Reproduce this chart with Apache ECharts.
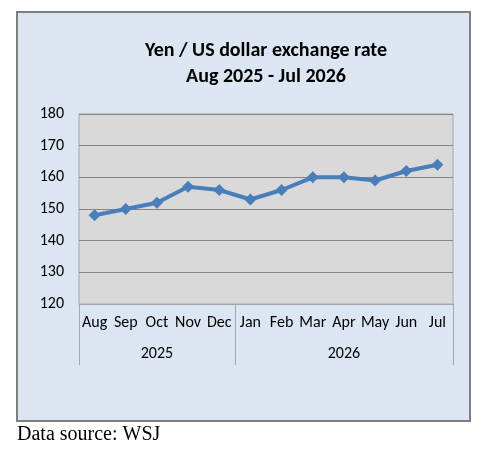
<!DOCTYPE html>
<html lang="en">
<head>
    <meta charset="UTF-8">
    <title>Yen / US dollar exchange rate</title>
    <style>
        html, body { margin: 0; padding: 0; background: #ffffff; }
        #main { width: 486px; height: 449px; }
    </style>
    <script src="https://cdn.jsdelivr.net/npm/echarts@6/dist/echarts.min.js"></script>
</head>
<body>
    <div id="main"></div>
    <script>
        // data
        var months = ['Aug', 'Sep', 'Oct', 'Nov', 'Dec', 'Jan', 'Feb', 'Mar', 'Apr', 'May', 'Jun', 'Jul'];
        var years = ['2025', '2025', '2025', '2025', '2025', '2026', '2026', '2026', '2026', '2026', '2026', '2026'];
        var rates = [148, 150, 152, 157, 156, 153, 156, 160, 160, 159, 162, 164];
        var yearLabelAt = [2, 8];   // middle month of each year group
        var yearStartAt = [0, 5];   // group boundaries (last one is added by echarts)

        var font = 'Carlito, Lato, sans-serif';
        var myChart = echarts.init(document.getElementById('main'));

        var option = {
            animation: false,
            graphic: [
                {
                    type: 'rect',
                    shape: { x: 17, y: 12, width: 453, height: 409 },
                    style: { fill: '#DCE6F2', stroke: '#7F7F7F', lineWidth: 2 },
                    z: -10
                },
                {
                    type: 'text',
                    left: 17,
                    top: 425,
                    style: {
                        text: 'Data source: WSJ',
                        font: '20px "Liberation Serif", "Times New Roman", serif',
                        fill: '#000'
                    }
                }
            ],
            title: {
                text: 'Yen / US dollar exchange rate\nAug 2025 - Jul 2026',
                left: 261,
                top: 33,
                textAlign: 'center',
                textStyle: {
                    fontFamily: font,
                    fontWeight: 'bold',
                    fontSize: 20,
                    lineHeight: 26,
                    color: '#000'
                }
            },
            grid: {
                left: 79,
                right: 33,
                top: 114,
                bottom: 145,
                show: true,
                backgroundColor: '#D9D9D9',
                borderColor: '#A6A6A6',
                borderWidth: 1
            },
            xAxis: [
                {
                    type: 'category',
                    data: months,
                    boundaryGap: true,
                    axisLine: { lineStyle: { color: '#A6A6A6', width: 1 } },
                    axisTick: {
                        show: true,
                        length: 61,
                        lineStyle: { color: '#A6A6A6' },
                        interval: function (index) {
                            return yearStartAt.indexOf(index) >= 0;
                        }
                    },
                    axisLabel: {
                        interval: 0,
                        margin: 11,
                        fontFamily: font,
                        fontSize: 16,
                        color: '#000'
                    }
                },
                {
                    type: 'category',
                    data: years,
                    position: 'bottom',
                    offset: 30,
                    boundaryGap: true,
                    axisLine: { show: false },
                    axisTick: { show: false },
                    axisLabel: {
                        margin: 12,
                        fontFamily: font,
                        fontSize: 16,
                        color: '#000',
                        interval: function (index) {
                            return yearLabelAt.indexOf(index) >= 0;
                        }
                    }
                }
            ],
            yAxis: {
                type: 'value',
                min: 120,
                max: 180,
                interval: 10,
                axisLine: { show: false },
                axisTick: { show: false },
                axisLabel: {
                    margin: 15,
                    fontFamily: font,
                    fontSize: 16,
                    color: '#000'
                },
                splitLine: { lineStyle: { color: '#868686', width: 1 } }
            },
            series: [
                {
                    type: 'line',
                    data: rates,
                    xAxisIndex: 0,
                    symbol: 'diamond',
                    symbolSize: 12,
                    lineStyle: { color: '#4A7EBB', width: 4 },
                    itemStyle: { color: '#4A7EBB' }
                }
            ]
        };

        myChart.setOption(option);
    </script>
</body>
</html>
